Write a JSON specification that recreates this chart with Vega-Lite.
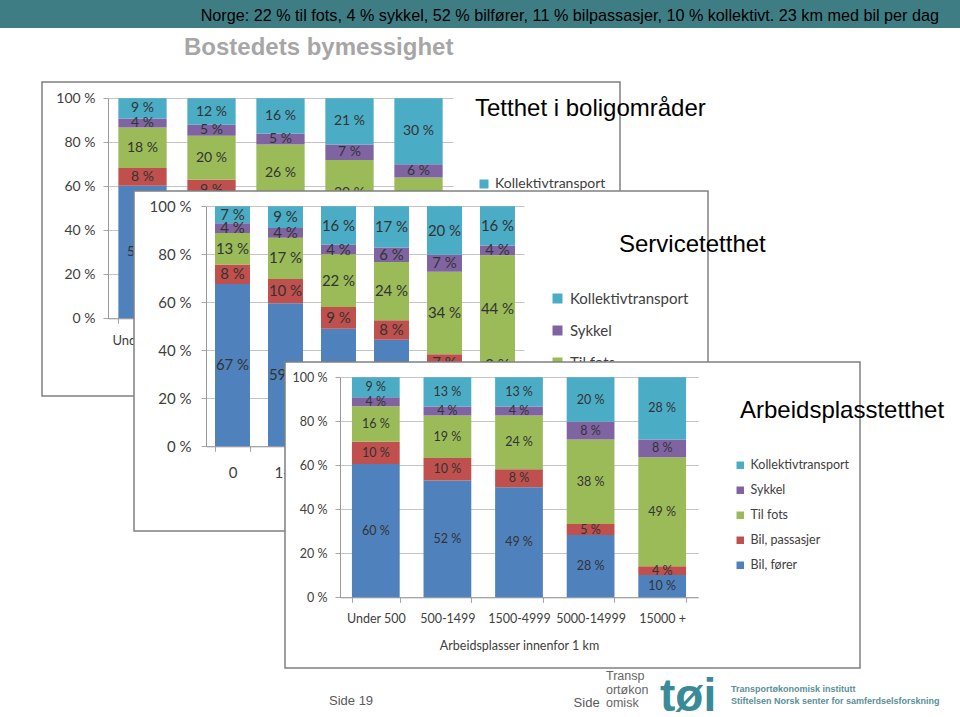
{
  "$schema": "https://vega.github.io/schema/vega-lite/v6.json",
  "padding": 0,
  "background": "white",
  "config": {
    "view": {"stroke": null},
    "font": "Liberation Sans",
    "concat": {"spacing": 0},
    "axis": {"labelFont": "Lato", "titleFont": "Lato", "labelColor": "#404040", "titleColor": "#404040", "domainColor": "#999999", "tickColor": "#a6a6a6", "gridColor": "#c4c4c4", "titleFontWeight": "normal", "labelOverlap": false},
    "legend": {"labelFont": "Lato", "labelColor": "#404040", "symbolType": "square", "symbolStrokeWidth": 0, "symbolOpacity": 1}
  },
  "datasets": {
    "c1": [
      {"cat": "Under 500", "mode": "Bil, fører", "v": 59}, {"cat": "Under 500", "mode": "Bil, passasjer", "v": 8}, {"cat": "Under 500", "mode": "Til fots", "v": 18}, {"cat": "Under 500", "mode": "Sykkel", "v": 4}, {"cat": "Under 500", "mode": "Kollektivtransport", "v": 9},
      {"cat": "500-999", "mode": "Bil, fører", "v": 54}, {"cat": "500-999", "mode": "Bil, passasjer", "v": 9}, {"cat": "500-999", "mode": "Til fots", "v": 20}, {"cat": "500-999", "mode": "Sykkel", "v": 5}, {"cat": "500-999", "mode": "Kollektivtransport", "v": 12},
      {"cat": "1000-1999", "mode": "Bil, fører", "v": 44}, {"cat": "1000-1999", "mode": "Bil, passasjer", "v": 9}, {"cat": "1000-1999", "mode": "Til fots", "v": 26}, {"cat": "1000-1999", "mode": "Sykkel", "v": 5}, {"cat": "1000-1999", "mode": "Kollektivtransport", "v": 16},
      {"cat": "2000-4999", "mode": "Bil, fører", "v": 34}, {"cat": "2000-4999", "mode": "Bil, passasjer", "v": 8}, {"cat": "2000-4999", "mode": "Til fots", "v": 30}, {"cat": "2000-4999", "mode": "Sykkel", "v": 7}, {"cat": "2000-4999", "mode": "Kollektivtransport", "v": 21},
      {"cat": "5000 +", "mode": "Bil, fører", "v": 19}, {"cat": "5000 +", "mode": "Bil, passasjer", "v": 5}, {"cat": "5000 +", "mode": "Til fots", "v": 40}, {"cat": "5000 +", "mode": "Sykkel", "v": 6}, {"cat": "5000 +", "mode": "Kollektivtransport", "v": 30}
    ],
    "c2": [
      {"cat": "0", "mode": "Bil, fører", "v": 67}, {"cat": "0", "mode": "Bil, passasjer", "v": 8}, {"cat": "0", "mode": "Til fots", "v": 13}, {"cat": "0", "mode": "Sykkel", "v": 4}, {"cat": "0", "mode": "Kollektivtransport", "v": 7},
      {"cat": "1-4", "mode": "Bil, fører", "v": 59}, {"cat": "1-4", "mode": "Bil, passasjer", "v": 10}, {"cat": "1-4", "mode": "Til fots", "v": 17}, {"cat": "1-4", "mode": "Sykkel", "v": 4}, {"cat": "1-4", "mode": "Kollektivtransport", "v": 9},
      {"cat": "5-9", "mode": "Bil, fører", "v": 49}, {"cat": "5-9", "mode": "Bil, passasjer", "v": 9}, {"cat": "5-9", "mode": "Til fots", "v": 22}, {"cat": "5-9", "mode": "Sykkel", "v": 4}, {"cat": "5-9", "mode": "Kollektivtransport", "v": 16},
      {"cat": "10-19", "mode": "Bil, fører", "v": 44}, {"cat": "10-19", "mode": "Bil, passasjer", "v": 8}, {"cat": "10-19", "mode": "Til fots", "v": 24}, {"cat": "10-19", "mode": "Sykkel", "v": 6}, {"cat": "10-19", "mode": "Kollektivtransport", "v": 17},
      {"cat": "20-49", "mode": "Bil, fører", "v": 31}, {"cat": "20-49", "mode": "Bil, passasjer", "v": 7}, {"cat": "20-49", "mode": "Til fots", "v": 34}, {"cat": "20-49", "mode": "Sykkel", "v": 7}, {"cat": "20-49", "mode": "Kollektivtransport", "v": 20},
      {"cat": "50 +", "mode": "Bil, fører", "v": 32}, {"cat": "50 +", "mode": "Bil, passasjer", "v": 2}, {"cat": "50 +", "mode": "Til fots", "v": 44}, {"cat": "50 +", "mode": "Sykkel", "v": 4}, {"cat": "50 +", "mode": "Kollektivtransport", "v": 16}
    ],
    "c3": [
      {"cat": "Under 500", "mode": "Bil, fører", "v": 60}, {"cat": "Under 500", "mode": "Bil, passasjer", "v": 10}, {"cat": "Under 500", "mode": "Til fots", "v": 16}, {"cat": "Under 500", "mode": "Sykkel", "v": 4}, {"cat": "Under 500", "mode": "Kollektivtransport", "v": 9},
      {"cat": "500-1499", "mode": "Bil, fører", "v": 52}, {"cat": "500-1499", "mode": "Bil, passasjer", "v": 10}, {"cat": "500-1499", "mode": "Til fots", "v": 19}, {"cat": "500-1499", "mode": "Sykkel", "v": 4}, {"cat": "500-1499", "mode": "Kollektivtransport", "v": 13},
      {"cat": "1500-4999", "mode": "Bil, fører", "v": 49}, {"cat": "1500-4999", "mode": "Bil, passasjer", "v": 8}, {"cat": "1500-4999", "mode": "Til fots", "v": 24}, {"cat": "1500-4999", "mode": "Sykkel", "v": 4}, {"cat": "1500-4999", "mode": "Kollektivtransport", "v": 13},
      {"cat": "5000-14999", "mode": "Bil, fører", "v": 28}, {"cat": "5000-14999", "mode": "Bil, passasjer", "v": 5}, {"cat": "5000-14999", "mode": "Til fots", "v": 38}, {"cat": "5000-14999", "mode": "Sykkel", "v": 8}, {"cat": "5000-14999", "mode": "Kollektivtransport", "v": 20},
      {"cat": "15000 +", "mode": "Bil, fører", "v": 10}, {"cat": "15000 +", "mode": "Bil, passasjer", "v": 4}, {"cat": "15000 +", "mode": "Til fots", "v": 49}, {"cat": "15000 +", "mode": "Sykkel", "v": 8}, {"cat": "15000 +", "mode": "Kollektivtransport", "v": 28}
    ]
  },
  "bounds": "flush",
  "spacing": 54,
  "resolve": {"scale": {"color": "independent"}, "legend": {"color": "independent"}},
  "vconcat": [
    {
      "width": 960, "height": 28,
      "view": {"fill": "#3f7d84", "stroke": null},
      "data": {"values": []},
      "mark": "rect",
      "encoding": {},
      "title": {"text": "Norge:  22 % til fots, 4 % sykkel, 52 % bilfører, 11 % bilpassasjer, 10 % kollektivt.  23 km med bil per dag", "orient": "top", "anchor": "end", "frame": "group", "offset": -37, "dx": -21, "baseline": "alphabetic", "font": "Liberation Sans", "fontSize": 16.2, "fontWeight": "normal", "color": "#000000"}
    },
    {
      "bounds": "flush",
      "columns": 4,
      "align": "none",
      "spacing": {"row": -205, "column": -486},
      "resolve": {"scale": {"color": "independent"}, "legend": {"color": "independent"}},
      "concat": [
        {"width": 528, "height": 1, "data": {"values": []}, "mark": "rect", "encoding": {},
         "title": {"text": "Bostedets bymessighet", "orient": "top", "anchor": "start", "frame": "group", "dx": 184, "offset": 3, "baseline": "alphabetic", "font": "Liberation Sans", "fontSize": 24, "fontWeight": "bold", "color": "#a6a6a6"}},
        {
          "width": 578, "height": 314,
          "view": {"fill": "white", "stroke": "#808080", "strokeWidth": 1.5},
          "title": {"text": "Tetthet i boligområder", "orient": "top", "anchor": "start", "frame": "group", "dx": 433, "offset": -58, "baseline": "alphabetic", "font": "Liberation Sans", "fontSize": 24, "fontWeight": "normal", "color": "#000000"},
          "data": {"name": "c1"},
          "transform": [{"calculate": "indexof(['Bil, fører', 'Bil, passasjer', 'Til fots', 'Sykkel', 'Kollektivtransport'], datum.mode)", "as": "rank"}],
          "resolve": {"scale": {"color": "independent"}, "legend": {"color": "independent"}},
          "layer": [
            {"mark": {"type": "bar"},
             "encoding": {
               "x": {"field": "cat", "type": "nominal", "sort": null, "scale": {"range": [66, 411], "paddingInner": 0.3, "paddingOuter": 0.15},
                     "axis": {"orient": "bottom", "offset": -77.7, "labelAngle": 0, "tickBand": "extent", "tickSize": 5, "labelPadding": 11, "labelFontSize": 13, "labelOverlap": false, "title": null, "grid": false}},
               "y": {"field": "v", "type": "quantitative", "stack": "normalize", "scale": {"range": [236.3, 16.3]},
                     "axis": {"orient": "left", "offset": -66, "tickCount": 10, "values": [0, 0.1, 0.2, 0.3, 0.4, 0.5, 0.6, 0.7, 0.8, 0.9, 1], "format": ".0%", "labelExpr": "replace(datum.label, '%', ' %')", "labelOverlap": false, "labelBound": false, "grid": true, "tickSize": 5, "labelPadding": 8, "labelFontSize": 14, "title": null}},
               "order": {"field": "rank", "type": "quantitative"},
               "color": {"field": "mode", "type": "nominal", "sort": ["Kollektivtransport", "Sykkel", "Til fots", "Bil, passasjer", "Bil, fører"],
                         "scale": {"range": ["#4BACC6", "#8064A2", "#9BBB59", "#C0504D", "#4F81BD"]},
                         "legend": {"title": null, "orient": "none", "legendX": 435, "legendY": 95, "symbolSize": 81, "labelFontSize": 14, "rowPadding": 14, "labelOffset": 4}}
             }},
            {"mark": {"type": "text", "text": {"expr": "datum.v + ' %'"}, "font": "Lato", "fontSize": 14, "baseline": "middle"},
             "encoding": {
               "x": {"field": "cat", "type": "nominal", "sort": null},
               "y": {"field": "v", "type": "quantitative", "stack": "normalize", "bandPosition": 0.5,
                     "axis": {"orient": "left", "offset": -66, "tickCount": 10, "values": [0, 0.1, 0.2, 0.3, 0.4, 0.5, 0.6, 0.7, 0.8, 0.9, 1], "format": ".0%", "labelExpr": "replace(datum.label, '%', ' %')", "labelOverlap": false, "labelBound": false, "grid": true, "tickSize": 5, "labelPadding": 8, "labelFontSize": 14, "title": null}},
               "order": {"field": "rank", "type": "quantitative"},
               "color": {"field": "mode", "type": "nominal", "scale": {"range": ["#333333"]}, "legend": null}
             }}
          ]
        },
        {"width": 1, "height": 1, "data": {"values": []}, "mark": "rect", "encoding": {}},
        {"width": 1, "height": 1, "data": {"values": []}, "mark": "rect", "encoding": {}},
        {"width": 1, "height": 376, "data": {"values": []}, "mark": "rect", "encoding": {}},
        {"width": 1, "height": 340, "data": {"values": []}, "mark": "rect", "encoding": {},
         "title": {"text": "Transportøkonomisk institutt", "subtitle": "Stiftelsen Norsk senter for samferdselsforskning", "orient": "bottom", "anchor": "start", "frame": "group", "dx": 689, "offset": 154, "font": "Liberation Sans", "fontSize": 9, "fontWeight": "bold", "color": "#5a8f98", "subtitleFont": "Liberation Sans", "subtitleFontSize": 9, "subtitleFontWeight": "bold", "subtitleColor": "#5a8f98", "subtitlePadding": 3}},
        {
          "width": 574, "height": 340,
          "view": {"fill": "white", "stroke": "#808080", "strokeWidth": 1.5},
          "title": {"text": "Servicetetthet", "orient": "top", "anchor": "start", "frame": "group", "dx": 485, "offset": -84.7, "baseline": "alphabetic", "font": "Liberation Sans", "fontSize": 24, "fontWeight": "normal", "color": "#000000"},
          "data": {"name": "c2"},
          "transform": [{"calculate": "indexof(['Bil, fører', 'Bil, passasjer', 'Til fots', 'Sykkel', 'Kollektivtransport'], datum.mode)", "as": "rank"}],
          "resolve": {"scale": {"color": "independent"}, "legend": {"color": "independent"}},
          "layer": [
            {"mark": {"type": "bar"},
             "encoding": {
               "x": {"field": "cat", "type": "nominal", "sort": null, "scale": {"range": [72, 390], "paddingInner": 0.34, "paddingOuter": 0.17},
                     "axis": {"orient": "bottom", "offset": -84.7, "labelAngle": 0, "tickBand": "extent", "tickSize": 5, "labelPadding": 14, "labelFontSize": 15, "labelOverlap": false, "title": null, "grid": false}},
               "y": {"field": "v", "type": "quantitative", "stack": "normalize", "scale": {"range": [255.3, 15.3]},
                     "axis": {"orient": "left", "offset": -72, "tickCount": 10, "values": [0, 0.1, 0.2, 0.3, 0.4, 0.5, 0.6, 0.7, 0.8, 0.9, 1], "format": ".0%", "labelExpr": "replace(datum.label, '%', ' %')", "labelOverlap": false, "labelBound": false, "grid": true, "tickSize": 5, "labelPadding": 10, "labelFontSize": 15, "title": null}},
               "order": {"field": "rank", "type": "quantitative"},
               "color": {"field": "mode", "type": "nominal", "sort": ["Kollektivtransport", "Sykkel", "Til fots", "Bil, passasjer", "Bil, fører"],
                         "scale": {"range": ["#4BACC6", "#8064A2", "#9BBB59", "#C0504D", "#4F81BD"]},
                         "legend": {"title": null, "orient": "none", "legendX": 416, "legendY": 100, "symbolSize": 100, "labelFontSize": 15, "rowPadding": 16, "labelOffset": 5}}
             }},
            {"mark": {"type": "text", "text": {"expr": "datum.v + ' %'"}, "font": "Lato", "fontSize": 15, "baseline": "middle"},
             "encoding": {
               "x": {"field": "cat", "type": "nominal", "sort": null},
               "y": {"field": "v", "type": "quantitative", "stack": "normalize", "bandPosition": 0.5,
                     "axis": {"orient": "left", "offset": -72, "tickCount": 10, "values": [0, 0.1, 0.2, 0.3, 0.4, 0.5, 0.6, 0.7, 0.8, 0.9, 1], "format": ".0%", "labelExpr": "replace(datum.label, '%', ' %')", "labelOverlap": false, "labelBound": false, "grid": true, "tickSize": 5, "labelPadding": 10, "labelFontSize": 15, "title": null}},
               "order": {"field": "rank", "type": "quantitative"},
               "color": {"field": "mode", "type": "nominal", "scale": {"range": ["#333333"]}, "legend": null}
             }}
          ]
        },
        {"width": 1, "height": 340, "data": {"values": []}, "mark": "rect", "encoding": {},
         "title": {"text": "tøi", "orient": "bottom", "anchor": "start", "frame": "group", "dx": 375, "offset": 144, "font": "Liberation Sans", "fontSize": 46, "fontWeight": "bold", "color": "#3a8b97"}},
        {"width": 1, "height": 306, "data": {"values": []}, "mark": "rect", "encoding": {},
         "title": {"text": "Side 19", "orient": "bottom", "anchor": "start", "frame": "group", "dx": 329, "offset": 27, "font": "Liberation Sans", "fontSize": 13, "fontWeight": "normal", "color": "#595959"}},
        {"width": 1, "height": 306, "data": {"values": []}, "mark": "rect", "encoding": {},
         "title": {"text": "Side", "orient": "bottom", "anchor": "start", "frame": "group", "dx": 531.6, "offset": 28.5, "font": "Liberation Sans", "fontSize": 13, "fontWeight": "normal", "color": "#595959"}},
        {"width": 637, "height": 306, "data": {"values": []}, "mark": "rect", "encoding": {},
         "title": {"text": ["Transp", "ortøkon", "omisk"], "orient": "bottom", "anchor": "start", "frame": "group", "dx": 472, "offset": 2, "font": "Liberation Sans", "fontSize": 12.5, "lineHeight": 13.5, "fontWeight": "normal", "color": "#666666"}},
        {
          "width": 575, "height": 306,
          "view": {"fill": "white", "stroke": "#808080", "strokeWidth": 1.5},
          "title": {"text": "Arbeidsplasstetthet", "orient": "top", "anchor": "start", "frame": "group", "dx": 455, "offset": -80.3, "baseline": "alphabetic", "font": "Liberation Sans", "fontSize": 24, "fontWeight": "normal", "color": "#000000"},
          "data": {"name": "c3"},
          "transform": [{"calculate": "indexof(['Bil, fører', 'Bil, passasjer', 'Til fots', 'Sykkel', 'Kollektivtransport'], datum.mode)", "as": "rank"}],
          "resolve": {"scale": {"color": "independent"}, "legend": {"color": "independent"}},
          "layer": [
            {"mark": {"type": "bar"},
             "encoding": {
               "x": {"field": "cat", "type": "nominal", "sort": null, "scale": {"range": [55, 413], "paddingInner": 0.333, "paddingOuter": 0.1667},
                     "axis": {"orient": "bottom", "offset": -70.7, "labelAngle": 0, "tickBand": "extent", "tickSize": 5, "labelPadding": 10, "labelFontSize": 12.5, "labelOverlap": false, "title": "Arbeidsplasser innenfor 1 km", "titleFontSize": 12.5, "titlePadding": 15, "grid": false}},
               "y": {"field": "v", "type": "quantitative", "stack": "normalize", "scale": {"range": [235.3, 15.3]},
                     "axis": {"orient": "left", "offset": -55, "tickCount": 10, "values": [0, 0.1, 0.2, 0.3, 0.4, 0.5, 0.6, 0.7, 0.8, 0.9, 1], "format": ".0%", "labelExpr": "replace(datum.label, '%', ' %')", "labelOverlap": false, "labelBound": false, "grid": true, "tickSize": 5, "labelPadding": 8, "labelFontSize": 12.5, "title": null}},
               "order": {"field": "rank", "type": "quantitative"},
               "color": {"field": "mode", "type": "nominal", "sort": ["Kollektivtransport", "Sykkel", "Til fots", "Bil, passasjer", "Bil, fører"],
                         "scale": {"range": ["#4BACC6", "#8064A2", "#9BBB59", "#C0504D", "#4F81BD"]},
                         "legend": {"title": null, "orient": "none", "legendX": 449, "legendY": 97, "symbolSize": 56, "labelFontSize": 12.5, "rowPadding": 12, "labelOffset": 4}}
             }},
            {"mark": {"type": "text", "text": {"expr": "datum.v + ' %'"}, "font": "Lato", "fontSize": 12.5, "baseline": "middle"},
             "encoding": {
               "x": {"field": "cat", "type": "nominal", "sort": null},
               "y": {"field": "v", "type": "quantitative", "stack": "normalize", "bandPosition": 0.5,
                     "axis": {"orient": "left", "offset": -55, "tickCount": 10, "values": [0, 0.1, 0.2, 0.3, 0.4, 0.5, 0.6, 0.7, 0.8, 0.9, 1], "format": ".0%", "labelExpr": "replace(datum.label, '%', ' %')", "labelOverlap": false, "labelBound": false, "grid": true, "tickSize": 5, "labelPadding": 8, "labelFontSize": 12.5, "title": null}},
               "order": {"field": "rank", "type": "quantitative"},
               "color": {"field": "mode", "type": "nominal", "scale": {"range": ["#333333"]}, "legend": null}
             }}
          ]
        }
      ]
    }
  ]
}
